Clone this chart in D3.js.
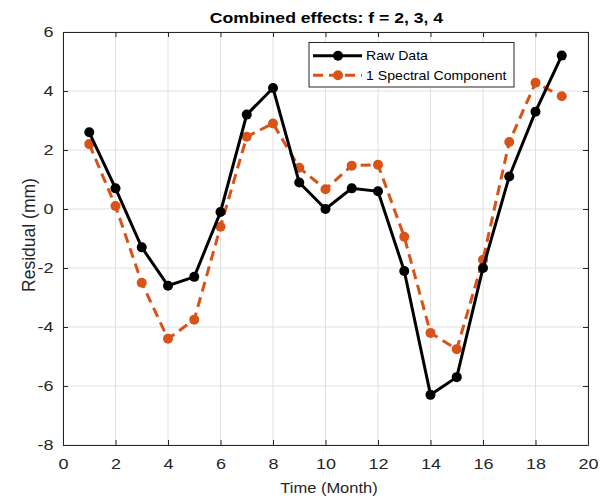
<!DOCTYPE html>
<html><head><meta charset="utf-8">
<script src="https://cdn.jsdelivr.net/npm/d3@7"></script>
<style>body{margin:0;background:#fff}svg{display:block}text{font-family:"Liberation Sans",Arial,sans-serif}</style>
</head><body><svg id="c" width="616" height="498"></svg>
<script>
const months = [1,2,3,4,5,6,7,8,9,10,11,12,13,14,15,16,17,18,19];
const rawData = [2.6,0.7,-1.3,-2.6,-2.3,-0.1,3.2,4.1,0.9,0.0,0.7,0.6,-2.1,-6.3,-5.7,-2.0,1.1,3.3,5.2];
const spectral = [2.2,0.1,-2.5,-4.4,-3.75,-0.6,2.45,2.9,1.4,0.67,1.47,1.5,-0.94,-4.2,-4.75,-1.72,2.27,4.28,3.82];
const xTicks = [0,2,4,6,8,10,12,14,16,18,20];
const yTicks = [-8,-6,-4,-2,0,2,4,6];
const seriesNames = ["Raw Data","1 Spectral Component"];

const svg = d3.select("#c");
const L=63,R=588,T=32,B=445;
const x = d3.scaleLinear().domain([0,20]).range([L,R]);
const y = d3.scaleLinear().domain([-8,6]).range([B,T]);
const fmt = d => String(d);   // plain hyphen-minus, as in the reference

// grid
svg.append("g").selectAll("line").data(xTicks).join("line")
  .attr("x1",d=>x(d)).attr("x2",d=>x(d)).attr("y1",T).attr("y2",B)
  .attr("stroke","#dfdfdf").attr("stroke-width",1);
svg.append("g").selectAll("line").data(yTicks).join("line")
  .attr("y1",d=>y(d)).attr("y2",d=>y(d)).attr("x1",L).attr("x2",R)
  .attr("stroke","#dfdfdf").attr("stroke-width",1);

// axes
const tk = 1.2; // horizontal stretch of the reference's text
const ax = svg.append("g").attr("transform",`translate(0,${B})`)
  .call(d3.axisBottom(x).tickValues(xTicks).tickFormat(fmt).tickSizeInner(-5).tickSizeOuter(0).tickPadding(13));
const axT = svg.append("g").attr("transform",`translate(0,${T})`)
  .call(d3.axisTop(x).tickValues(xTicks).tickSizeInner(-5).tickSizeOuter(0).tickFormat(""));
const ay = svg.append("g").attr("transform",`translate(${L},0)`)
  .call(d3.axisLeft(y).tickValues(yTicks).tickFormat(fmt).tickSizeInner(-5).tickSizeOuter(0).tickPadding(9.5));
const ayR = svg.append("g").attr("transform",`translate(${R},0)`)
  .call(d3.axisRight(y).tickValues(yTicks).tickSizeInner(-5).tickSizeOuter(0).tickFormat(""));
[ax,axT,ay,ayR].forEach(g=>{
  g.select(".domain").attr("stroke","#262626").attr("stroke-width",1);
  g.selectAll(".tick line").attr("stroke","#262626");
  g.selectAll(".tick text").attr("fill","#262626").style("font-size","15px")
    .attr("transform",`scale(${tk},1)`);
});
ay.selectAll(".tick text").attr("x",-9.5/tk);

// lines
const line = d3.line().x((d,i)=>x(months[i])).y(d=>y(d));
svg.append("path").datum(spectral).attr("d",line).attr("fill","none")
  .attr("stroke","#D95319").attr("stroke-width",3).attr("stroke-dasharray","10,6");
svg.append("g").selectAll("circle").data(spectral).join("circle")
  .attr("cx",(d,i)=>x(months[i])).attr("cy",d=>y(d)).attr("r",5).attr("fill","#D95319");
svg.append("path").datum(rawData).attr("d",line).attr("fill","none")
  .attr("stroke","#000").attr("stroke-width",3);
svg.append("g").selectAll("circle").data(rawData).join("circle")
  .attr("cx",(d,i)=>x(months[i])).attr("cy",d=>y(d)).attr("r",5).attr("fill","#000");

// legend
const lg = svg.append("g");
lg.append("rect").attr("x",309).attr("y",42.5).attr("width",205).attr("height",44.5)
  .attr("fill","#fff").attr("stroke","#262626").attr("stroke-width",1);
const styles=[{c:"#000",dash:null},{c:"#D95319",dash:"10,6"}];
const lk = 1.13;
seriesNames.forEach((n,i)=>{
  const yy = 55.7 + i*19.5;
  lg.append("line").attr("x1",313).attr("x2",362).attr("y1",yy).attr("y2",yy)
    .attr("stroke",styles[i].c).attr("stroke-width",3).attr("stroke-dasharray",styles[i].dash);
  lg.append("circle").attr("cx",338).attr("cy",yy).attr("r",5).attr("fill",styles[i].c);
  lg.append("text").attr("x",366/lk).attr("y",yy).attr("dy","0.36em").attr("fill","#000")
    .attr("transform",`scale(${lk},1)`).style("font-size","12.5px").text(n);
});

// title and labels
const ttk = 1.137;
svg.append("text").attr("x",326.5/ttk).attr("y",23).attr("text-anchor","middle")
  .attr("transform",`scale(${ttk},1)`)
  .style("font-size","15.5px").style("font-weight","bold").attr("fill","#000")
  .text("Combined effects: f = 2, 3, 4");
const xk = 1.1;
svg.append("text").attr("x",329/xk).attr("y",493).attr("text-anchor","middle")
  .attr("transform",`scale(${xk},1)`)
  .style("font-size","15px").attr("fill","#262626").text("Time (Month)");
svg.append("text").attr("transform",`translate(35,${235}) rotate(-90)`).attr("text-anchor","middle")
  .style("font-size","17.5px").attr("fill","#262626").text("Residual (mm)");
</script></body></html>
